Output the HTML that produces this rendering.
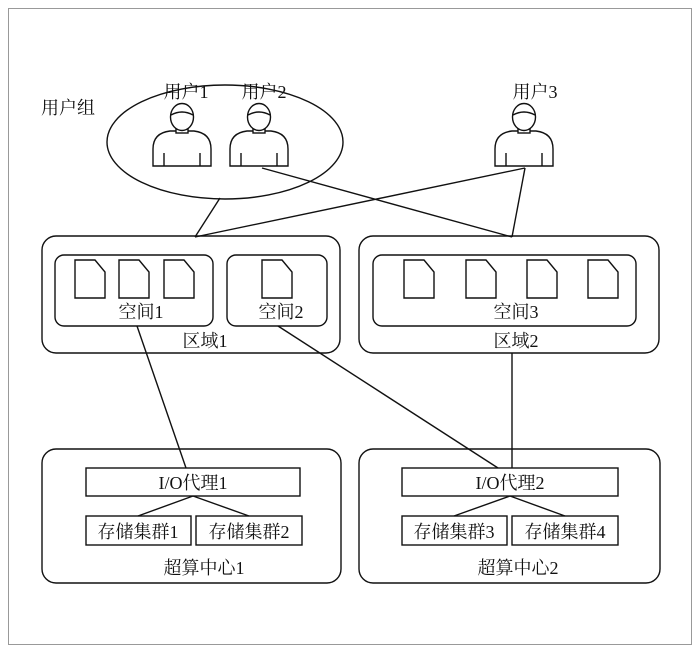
<!DOCTYPE html>
<html><head><meta charset="utf-8"><style>
html,body{margin:0;padding:0;background:#fff;}
svg text{font-family:"Liberation Serif","Noto Serif CJK SC",serif;font-size:18px;fill:#111;text-anchor:middle;}
</style></head><body>
<svg width="700" height="653" viewBox="0 0 700 653" xmlns="http://www.w3.org/2000/svg">
<defs>
<g id="user" fill="#fff" stroke="#111" stroke-width="1.4">
 <path d="M-29,29 L-29,12 Q-29,-4 -12,-6 L12,-6 Q29,-4 29,12 L29,29 Z"/>
 <rect x="-6" y="-10" width="12" height="6"/>
 <ellipse cx="0" cy="-20" rx="11.5" ry="13.5"/>
 <path d="M-11,-22 Q0,-28 11,-22"/>
 <line x1="-18" y1="16" x2="-18" y2="29"/><line x1="18" y1="16" x2="18" y2="29"/>
</g>
<g id="file" fill="#fff" stroke="#111" stroke-width="1.4">
 <path d="M0,0 L20,0 L30,12 L30,38 L0,38 Z"/>
</g>
</defs>
<rect x="8.5" y="8.5" width="683" height="636" fill="none" stroke="#999" stroke-width="1"/>
<g fill="none" stroke="#111" stroke-width="1.4">
 <ellipse cx="225" cy="142" rx="118" ry="57"/>
 <line x1="220" y1="198" x2="195" y2="237"/>
 <line x1="262" y1="168" x2="512" y2="237"/>
 <line x1="525" y1="168" x2="195" y2="237"/>
 <line x1="525" y1="168" x2="512" y2="237"/>
 <rect x="42" y="236" width="298" height="117" rx="14"/>
 <rect x="55" y="255" width="158" height="71" rx="9"/>
 <rect x="227" y="255" width="100" height="71" rx="9"/>
 <rect x="359" y="236" width="300" height="117" rx="14"/>
 <rect x="373" y="255" width="263" height="71" rx="9"/>
 <line x1="137" y1="326" x2="186" y2="468"/>
 <line x1="278" y1="326" x2="498" y2="468"/>
 <line x1="512" y1="353" x2="512" y2="468"/>
 <rect x="42" y="449" width="299" height="134" rx="14"/>
 <rect x="359" y="449" width="301" height="134" rx="14"/>
 <rect x="86" y="468" width="214" height="28"/>
 <rect x="402" y="468" width="216" height="28"/>
 <rect x="86" y="516" width="105" height="29"/>
 <rect x="196" y="516" width="106" height="29"/>
 <rect x="402" y="516" width="105" height="29"/>
 <rect x="512" y="516" width="106" height="29"/>
 <line x1="193" y1="496" x2="138" y2="516"/><line x1="193" y1="496" x2="249" y2="516"/>
 <line x1="510" y1="496" x2="454" y2="516"/><line x1="510" y1="496" x2="565" y2="516"/>
</g>
<use href="#user" x="182" y="137"/>
<use href="#user" x="259" y="137"/>
<use href="#user" x="524" y="137"/>
<use href="#file" x="75" y="260"/><use href="#file" x="119" y="260"/><use href="#file" x="164" y="260"/>
<use href="#file" x="262" y="260"/>
<use href="#file" x="404" y="260"/><use href="#file" x="466" y="260"/><use href="#file" x="527" y="260"/><use href="#file" x="588" y="260"/>
<text x="186" y="98">用户1</text>
<text x="264" y="98">用户2</text>
<text x="535" y="98">用户3</text>
<text x="68" y="114">用户组</text>
<text x="141" y="318">空间1</text>
<text x="281" y="318">空间2</text>
<text x="516" y="318">空间3</text>
<text x="205" y="347">区域1</text>
<text x="516" y="347">区域2</text>
<text x="193" y="489">I/O代理1</text>
<text x="510" y="489">I/O代理2</text>
<text x="138" y="538">存储集群1</text>
<text x="249" y="538">存储集群2</text>
<text x="454" y="538">存储集群3</text>
<text x="565" y="538">存储集群4</text>
<text x="204" y="574">超算中心1</text>
<text x="518" y="574">超算中心2</text>
</svg>
</body></html>
